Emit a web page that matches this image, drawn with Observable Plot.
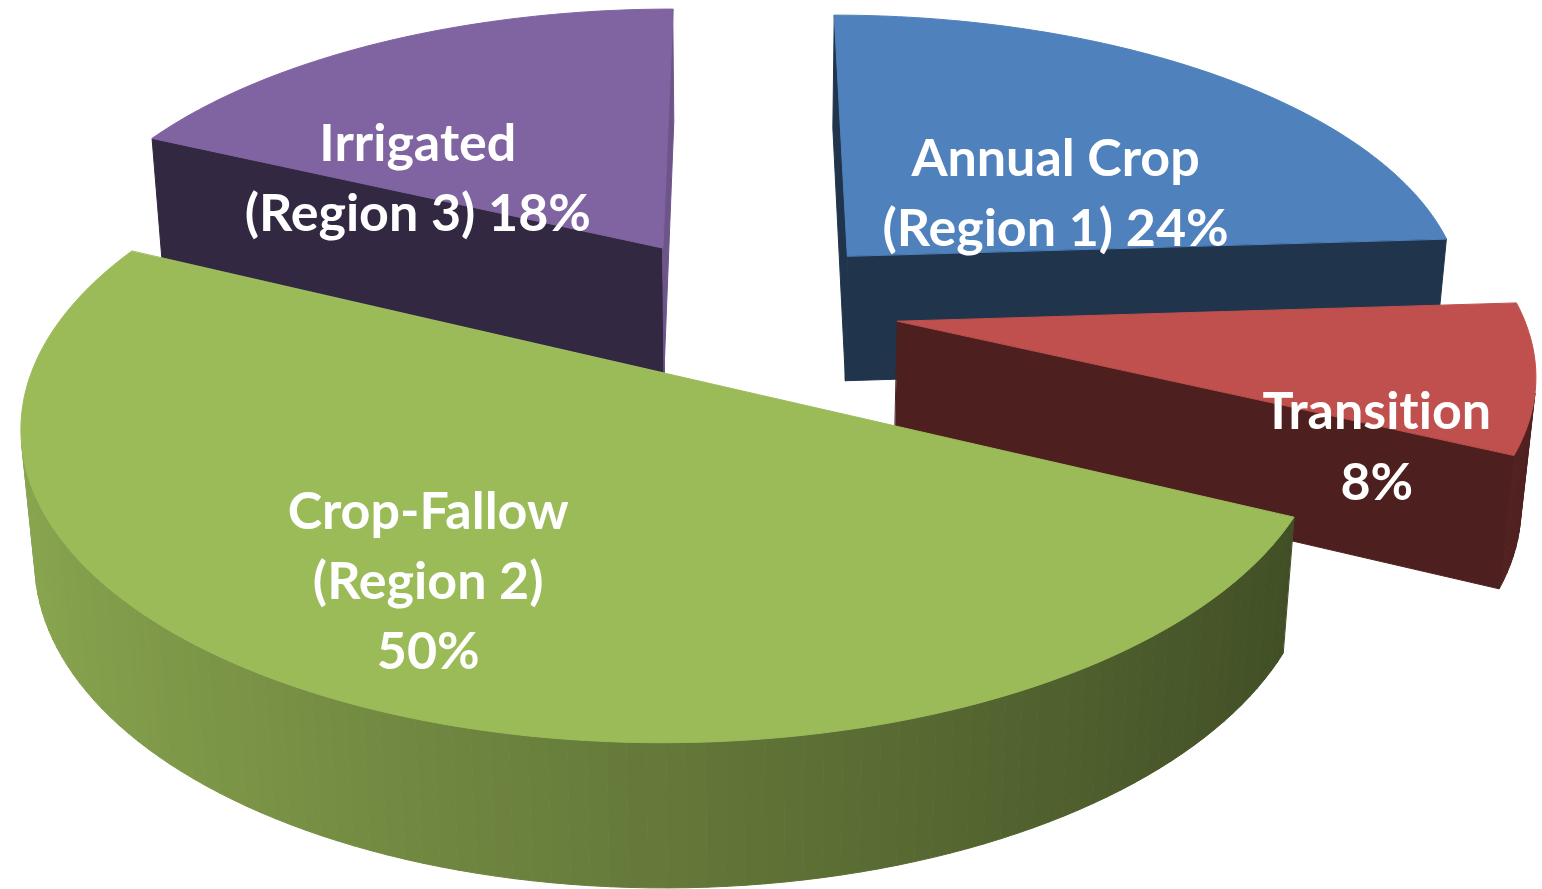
<!DOCTYPE html>
<html><head><meta charset="utf-8">
<script src="https://cdn.jsdelivr.net/npm/d3@7"></script>
<script src="https://cdn.jsdelivr.net/npm/@observablehq/plot@0.6"></script>
<style>html,body{margin:0;padding:0;background:#fff;overflow:hidden}
svg text{font-variant-ligatures:none;font-feature-settings:"liga" 0, "clig" 0;}</style>
</head><body><div id="chart"></div>
<script>
// ---- data ----
const categories = ["Annual Crop (Region 1)", "Transition", "Crop-Fallow (Region 2)", "Irrigated (Region 3)"];
const shares = [24, 8, 50, 18];
const labelTexts = ["Annual Crop\n(Region 1) 24%", "Transition\n8%", "Crop-Fallow\n(Region 2)\n50%", "Irrigated\n(Region 3) 18%"];
const sliceColors = ["#4F81BD", "#C0504D", "#9BBB59", "#8064A2"];

// ---- layout (3D view of the pie) ----
const W = 1542, HPX = 889;
const view = {D: 5.98, tilt: 27.8, scale: 623, cx: 743, cy: 307};
const explode = 0.25, thick = 0.235;
const labelAnchor = [{a: 57, r: 0.43}, {a: 119.7, r: 0.81}, {a: 209.3, r: 0.69}, {a: 301.7, r: 0.50}];

const rad = Math.PI / 180;
const s = Math.sin(view.tilt * rad), c = Math.cos(view.tilt * rad), D = view.D;
const camera = [0, D * s, D * c];
function project(P) {
  const [X, Y, Z] = P;
  const d = D - Y * s - Z * c;
  return {u: X * D / d, v: (Y * c - Z * s) * D / d};
}
function facing(P, n) {
  return (camera[0] - P[0]) * n[0] + (camera[1] - P[1]) * n[1] + (camera[2] - P[2]) * n[2] > 0;
}
function shade(hex, k) {
  const col = d3.rgb(hex);
  return d3.rgb(col.r * k, col.g * k, col.b * k).formatHex();
}
const total = d3.sum(shares);
let acc = 0;
const slices = shares.map((v, i) => {
  const a0 = acc / total * 360; acc += v;
  const a1 = acc / total * 360;
  const mid = (a0 + a1) / 2;
  return {i, a0, a1, mid, ox: explode * Math.sin(mid * rad), oz: -explode * Math.cos(mid * rad)};
});
function pt(sl, ang, r, Y) {
  return [sl.ox + r * Math.sin(ang * rad), Y, sl.oz - r * Math.cos(ang * rad)];
}
function centroid(P) {
  return [d3.mean(P, p => p[0]), d3.mean(P, p => p[1]), d3.mean(P, p => p[2])];
}
const faces = [];
const order = slices.slice().sort((a, b) => a.oz - b.oz);
for (const sl of order) {
  const base = sliceColors[sl.i];
  // outer curved side
  const n = Math.ceil((sl.a1 - sl.a0) / 1.5);
  for (let j = 0; j < n; j++) {
    const t0 = sl.a0 + (sl.a1 - sl.a0) * j / n, t1 = sl.a0 + (sl.a1 - sl.a0) * (j + 1) / n;
    const P = [pt(sl, t0, 1, 0), pt(sl, t1, 1, 0), pt(sl, t1, 1, -thick), pt(sl, t0, 1, -thick)];
    const tm = (t0 + t1) / 2;
    const nrm = [Math.sin(tm * rad), 0, -Math.cos(tm * rad)];
    if (facing(centroid(P), nrm)) faces.push({P, color: shade(base, 0.89 - 0.49 * (nrm[0] + 1) / 2)});
  }
  // radial faces
  for (const [ang, na] of [[sl.a0, sl.a0 - 90], [sl.a1, sl.a1 + 90]]) {
    const P = [pt(sl, 0, 0, 0), pt(sl, ang, 1, 0), pt(sl, ang, 1, -thick), pt(sl, 0, 0, -thick)];
    const nrm = [Math.sin(na * rad), 0, -Math.cos(na * rad)];
    if (facing(centroid(P), nrm)) faces.push({P, color: shade(base, nrm[0] > 0.5 ? 0.85 : 0.4)});
  }
  // top face
  const top = [pt(sl, 0, 0, 0)];
  const m = Math.ceil((sl.a1 - sl.a0) / 1);
  for (let j = 0; j <= m; j++) top.push(pt(sl, sl.a0 + (sl.a1 - sl.a0) * j / m, 1, 0));
  faces.push({P: top, color: base});
}

const labels = slices.map(sl => {
  const la = labelAnchor[sl.i];
  return {...project(pt(sl, la.a, la.r, 0)), text: labelTexts[sl.i], name: categories[sl.i]};
});

const marks = faces.map(f => Plot.line(f.P.map(project), {
  x: "u", y: "v", fill: f.color, stroke: f.color, strokeWidth: 1, curve: "linear-closed"
}));
marks.push(Plot.text(labels, {
  x: "u", y: "v", text: "text", fill: "white", fontSize: 52, fontWeight: "bold",
  fontFamily: "Lato", lineHeight: 1.35, textAnchor: "middle", dy: -5
}));

const chart = Plot.plot({
  width: W, height: HPX, margin: 0,
  x: {domain: [-view.cx / view.scale, (W - view.cx) / view.scale], range: [0, W], axis: null},
  y: {domain: [(view.cy - HPX) / view.scale, view.cy / view.scale], range: [HPX, 0], axis: null},
  style: {background: "white", fontFamily: "Lato"},
  marks
});
document.getElementById("chart").appendChild(chart);
</script>
</body></html>
